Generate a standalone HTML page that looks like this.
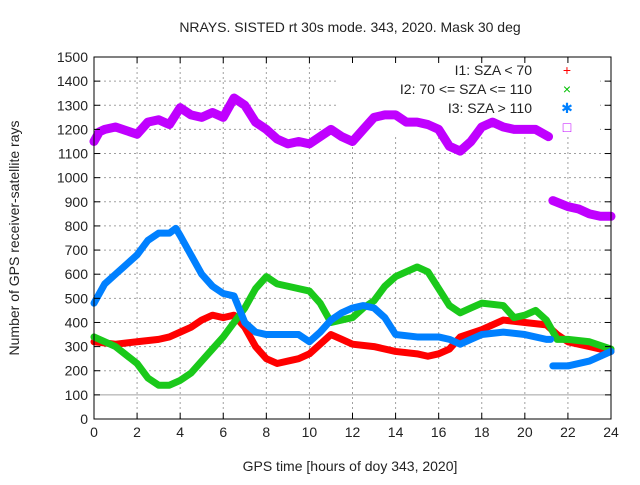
<!DOCTYPE html>
<html><head><meta charset="utf-8"><style>
body{margin:0;background:#fff}
svg text{font-family:"Liberation Sans",sans-serif;font-size:14px;fill:#222}
</style></head><body>
<svg id="c" width="640" height="480" xmlns="http://www.w3.org/2000/svg">
<text x="350" y="32" text-anchor="middle">NRAYS. SISTED rt 30s mode. 343, 2020. Mask 30 deg</text>
<text x="350" y="471" text-anchor="middle">GPS time [hours of doy 343, 2020]</text>
<text transform="translate(19,238) rotate(-90)" text-anchor="middle">Number of GPS receiver-satellite rays</text>
<g id="grid"></g><g id="series"></g><g id="axes"></g><g id="legend"></g>
</svg>
<script>
const xTicks=[0,2,4,6,8,10,12,14,16,18,20,22,24];
const yTicks=[0,100,200,300,400,500,600,700,800,900,1000,1100,1200,1300,1400,1500];
const hoursP=[0,0.25,0.5,1,1.5,2,2.5,3,3.5,4,4.5,5,5.5,6,6.5,7,7.5,8,8.5,9,9.5,10,10.5,11,11.5,12,12.5,13,13.5,14,14.5,15,15.5,16,16.5,17,17.5,18,18.5,19,19.5,20,20.5,21.1];
const purple=[1150,1190,1200,1210,1195,1180,1230,1240,1220,1290,1260,1250,1270,1250,1330,1300,1230,1200,1160,1140,1150,1140,1170,1200,1170,1150,1200,1250,1260,1260,1230,1230,1220,1200,1130,1110,1150,1210,1230,1210,1200,1200,1200,1170];
const hoursP2=[21.3,22,22.5,23,23.5,24];
const purple2=[905,880,870,850,840,840];
const hoursR=[0,1,2,3,3.5,4,4.5,5,5.5,6,6.5,7,7.5,8,8.5,9,9.5,10,10.5,11,11.5,12,13,14,15,15.5,16,16.5,17,18,19,20,21,21.5,22,23,24];
const red=[320,310,320,330,340,360,380,410,430,420,430,380,300,250,230,240,250,270,310,350,330,310,300,280,270,260,270,290,340,370,410,400,390,350,320,300,280];
const hoursG=[0,1,2,2.5,3,3.5,4,4.5,5,5.5,6,6.5,7,7.5,8,8.5,9,10,10.5,11,12,12.5,13,13.5,14,15,15.5,16,16.5,17,17.5,18,19,19.5,20,20.5,21,21.5,22,23,24];
const green=[340,300,230,170,140,140,160,190,240,290,340,400,460,540,590,560,550,530,480,400,420,460,490,550,590,630,610,540,470,440,460,480,470,420,430,450,410,330,330,320,290];
const hoursB=[0,0.5,1,1.5,2,2.5,3,3.5,3.8,4,4.5,5,5.5,6,6.5,7,7.5,8,9,9.5,10,10.5,11,11.5,12,12.5,13,13.5,14,15,16,16.5,17,17.5,18,19,20,21,21.2];
const blue=[480,560,600,640,680,740,770,770,790,760,680,600,550,520,510,400,360,350,350,350,320,360,410,440,460,470,460,420,350,340,340,330,310,330,350,360,350,330,330];
const hoursB2=[21.3,22,23,24];
const blue2=[220,220,240,280];
const legendLabels=["I1: SZA < 70","I2: 70 <= SZA <= 110","I3: SZA > 110",""];
const L=94,R=611,T=57,B=419;
const X=h=>L+h/24*(R-L), Y=v=>B-v/1500*(B-T);
const NS="http://www.w3.org/2000/svg";
function mk(tag,parent,attrs){const e=document.createElementNS(NS,tag);for(const k in attrs)e.setAttribute(k,attrs[k]);parent.appendChild(e);return e;}
const grid=document.getElementById('grid'),axes=document.getElementById('axes'),ser=document.getElementById('series'),leg=document.getElementById('legend');
xTicks.forEach(t=>{
 const g=mk('line',grid,{x1:X(t),x2:X(t),y1:T,y2:B,stroke:'#a0a0a0','stroke-dasharray':'2,3'});
 
 const tk=mk('line',axes,{x1:X(t),x2:X(t),y1:B,y2:B-6,stroke:'#000'});
 
 const tk2=mk('line',axes,{x1:X(t),x2:X(t),y1:T,y2:T+6,stroke:'#000'});
 
 const tx=mk('text',axes,{x:X(t),y:B+18,'text-anchor':'middle'});tx.textContent=t;
 
});
yTicks.forEach(t=>{
 if(t>0&&t<1500){const g=mk('line',grid,{x1:L,x2:R,y1:Y(t),y2:Y(t),stroke:'#a0a0a0','stroke-dasharray':t==100?'none':'2,3'});
 }
 const tk=mk('line',axes,{x1:L,x2:L+6,y1:Y(t),y2:Y(t),stroke:'#000'});
 
 const tk2=mk('line',axes,{x1:R,x2:R-6,y1:Y(t),y2:Y(t),stroke:'#000'});
 
 const tx=mk('text',axes,{x:L-6,y:Y(t)+5,'text-anchor':'end'});tx.textContent=t;
 
});
const wipe=mk('rect',grid,{x:336,y:62,width:264,height:72,fill:'#fff'});

const fr=mk('rect',axes,{x:L,y:T,width:R-L,height:B-T,fill:'none',stroke:'#000'});

function line(hs,vs,color,name,w){
 const p=mk('polyline',ser,{points:hs.map((h,i)=>X(h)+','+Y(vs[i])).join(' '),fill:'none',stroke:color,'stroke-width':w,'stroke-linejoin':'round','stroke-linecap':'round'});
 
}
line(hoursP,purple,'#c000ff','series-all',9);
line(hoursP2,purple2,'#c000ff','series-all-late',9);
line(hoursR,red,'#ff0000','series-i1',7);
line(hoursG,green,'#1ac91a','series-i2',7);
line(hoursB,blue,'#0080ff','series-i3',7);
line(hoursB2,blue2,'#0080ff','series-i3-late',7);
const cols=['#ff0000','#00c000','#0080ff','#c000ff'],syms=['+','×','✱','□'];
legendLabels.forEach((s,i)=>{
 const y=75+i*19;
 const t=mk('text',leg,{x:532,y:y,'text-anchor':'end'});t.textContent=s;
 
 const m=mk('text',leg,{x:567,y:y,'text-anchor':'middle',style:'fill:'+cols[i]});m.textContent=syms[i];
 
});
</script>
</body></html>
